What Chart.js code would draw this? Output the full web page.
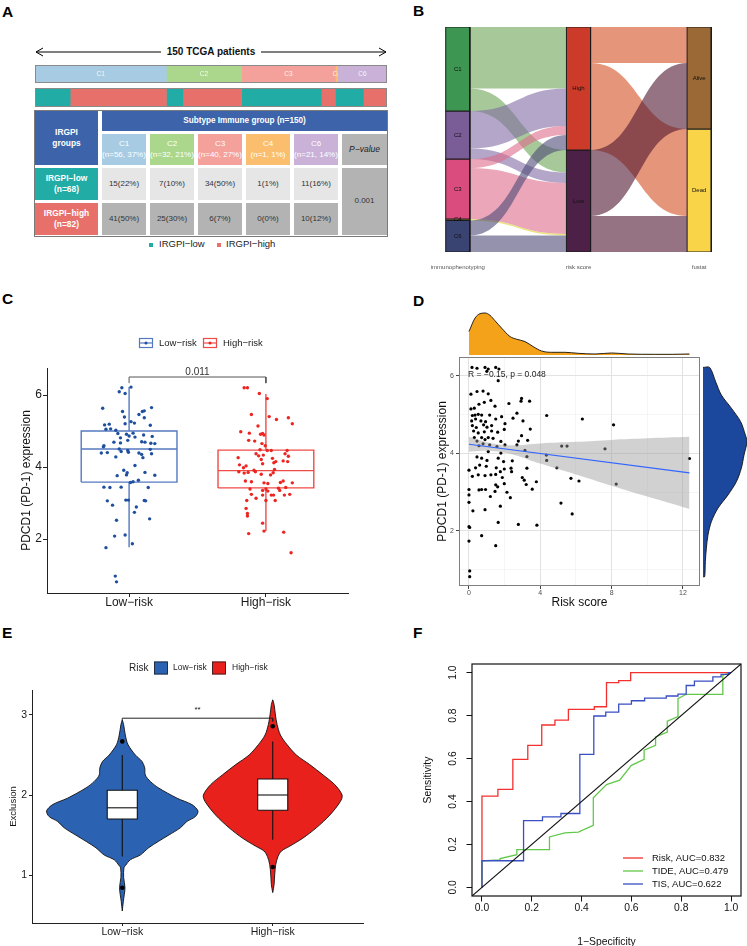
<!DOCTYPE html>
<html>
<head>
<meta charset="utf-8">
<title>IRGPI figure</title>
<script src="https://cdn.jsdelivr.net/npm/chart.js@4.4.1/dist/chart.umd.min.js"></script>
<style>
  html, body { margin:0; padding:0; background:#ffffff; }
  #page { position:relative; width:747px; height:946px; overflow:hidden; background:#fff;
          font-family:'Liberation Sans', Arial, Helvetica, sans-serif; color:#111; }
  #page canvas { position:absolute; }
  .plab { position:absolute; font-weight:bold; font-size:15.5px; line-height:1; color:#000; }
  .cell { position:absolute; box-sizing:border-box; display:flex; flex-direction:column;
          align-items:center; justify-content:center; text-align:center; line-height:1.3; white-space:nowrap; }
</style>
</head>
<body>
<div id="page">
  <div class="plab" style="left:2px;top:4px">A</div>
  <div class="plab" style="left:413px;top:3px">B</div>
  <div class="plab" style="left:2px;top:291px">C</div>
  <div class="plab" style="left:413px;top:293px">D</div>
  <div class="plab" style="left:2px;top:625px">E</div>
  <div class="plab" style="left:413px;top:625px">F</div>
  <svg style="position:absolute;left:0;top:40px" width="400" height="24">
    <line x1="36" y1="12" x2="386" y2="12" stroke="#000" stroke-width="1"/>
    <polyline points="43,8 36,12 43,16" fill="none" stroke="#000" stroke-width="1"/>
    <polyline points="379,8 386,12 379,16" fill="none" stroke="#000" stroke-width="1"/>
  </svg>
  <div id="arrowText" style="position:absolute;left:161px;top:46px;width:100px;height:12px;background:#fff;font-weight:bold;font-size:10px;line-height:12px;text-align:center;"></div>
</div>
<script>
// ======================= DATA =======================
// Panel A / B : subtypes and IRGPI groups
const subtypes       = ['C1', 'C2', 'C3', 'C4', 'C6'];
const subtypeCounts  = [56, 32, 40, 1, 21];
const subtypePct     = [37, 21, 27, 1, 14];
const lowCounts      = [15, 7, 34, 1, 11];
const lowPct         = [22, 10, 50, 1, 16];
const highCounts     = [41, 25, 6, 0, 10];
const highPct        = [50, 30, 7, 0, 12];
const riskGroups     = ['IRGPI−low', 'IRGPI−high'];
const riskTotals     = [68, 82];
const tablePValue    = '0.001';
const totalPatients  = 150;
const cohortLabel    = '150 TCGA patients';

// Panel B : alluvial
const sankeyAxes     = ['immunophenotyping', 'risk score', 'fustat'];
const riskLevels     = ['High', 'Low'];
const statusLevels   = ['Alive', 'Dead'];
const highToStatus   = [24, 58];
const lowToStatus    = [44, 24];

// Panel C : PDCD1 expression by risk group (jitter offsets + values)
const cCats = ['Low−risk', 'High−risk'];
const cLowJitter = [-0.053,-0.072,-0.029,0.014,-0.193,-0.048,0.097,0.111,0.164,0.072,-0.034,0.111,-0.179,-0.145,-0.029,0.014,0.039,0.155,-0.169,-0.135,-0.097,-0.082,-0.019,0.000,0.029,-0.063,0.043,0.106,0.169,-0.111,-0.063,-0.010,0.092,0.116,0.159,0.188,-0.184,-0.188,-0.072,-0.010,0.155,-0.203,-0.159,-0.058,-0.005,0.072,0.092,0.101,0.164,-0.097,0.043,-0.039,-0.014,-0.087,-0.019,0.116,0.188,0.010,0.029,0.068,-0.184,-0.140,-0.058,0.140,-0.159,-0.024,-0.005,0.111,0.121,-0.121,0.053,0.039,0.150,-0.092,-0.106,-0.029,-0.169,0.024,-0.101,-0.092];
const cLowExpr   = [6.20,6.09,6.04,6.22,5.63,5.54,5.54,5.56,5.65,5.46,5.39,5.37,5.17,5.19,5.20,5.26,5.22,5.16,5.05,5.06,5.02,4.93,4.91,4.86,4.94,4.81,4.83,4.89,4.85,4.69,4.67,4.74,4.70,4.69,4.66,4.65,4.59,4.56,4.50,4.46,4.49,4.39,4.40,4.43,4.41,4.39,4.35,4.26,4.37,4.28,4.04,3.91,3.84,3.76,3.78,3.85,3.77,3.57,3.59,3.63,3.44,3.43,3.44,3.43,3.06,3.08,3.08,3.07,3.06,2.94,2.89,2.74,2.56,2.52,2.08,2.11,1.76,1.87,0.97,0.81];
const cHighJitter = [-0.159,-0.135,-0.048,0.010,-0.106,0.024,0.077,0.164,0.193,-0.058,-0.184,-0.121,-0.039,-0.024,-0.014,-0.126,-0.082,-0.029,-0.005,-0.043,0.010,0.039,0.155,-0.072,-0.019,-0.053,0.140,-0.203,-0.034,0.048,0.072,0.126,0.164,0.159,0.058,-0.193,-0.164,-0.145,-0.024,-0.198,-0.159,-0.130,-0.087,-0.077,0.063,0.053,-0.034,0.034,-0.150,-0.106,-0.014,0.014,0.106,0.126,0.193,-0.116,-0.024,0.000,0.014,0.092,0.101,0.145,-0.106,-0.072,-0.024,0.039,0.056,0.135,0.174,-0.140,0.000,0.068,-0.145,-0.135,-0.135,-0.024,-0.014,-0.126,0.130,0.184];
const cHighExpr   = [6.20,6.20,6.04,5.90,5.46,5.40,5.32,5.37,5.20,5.14,4.98,4.94,4.91,4.93,4.89,4.74,4.72,4.65,4.59,4.48,4.46,4.46,4.46,4.37,4.33,4.31,4.37,4.26,4.21,4.24,4.15,4.17,4.30,4.15,4.12,4.06,3.98,4.03,4.09,3.87,3.83,3.85,3.91,3.87,3.93,3.84,3.80,3.78,3.61,3.59,3.56,3.54,3.57,3.61,3.56,3.39,3.35,3.39,3.33,3.41,3.35,3.43,3.24,3.13,3.22,3.22,3.22,3.22,3.24,3.07,3.07,3.07,2.85,2.71,2.64,2.44,2.22,2.15,2.19,1.62];
const cBoxQ1 = [3.58, 3.42], cBoxMed = [4.50, 3.90], cBoxQ3 = [5.00, 4.47];
const cWhiskLo = [1.77, 2.22], cWhiskHi = [6.22, 6.03];
const cBracketLow = 6.33, cBracketTop = 6.50, cPLabel = '0.011';

// Panel D : risk score vs PDCD1
const dRisk = [0.17,0.45,1.50,1.68,1.64,0.11,0.45,0.79,1.08,0.11,0.30,0.56,0.86,1.23,1.46,2.24,2.95,2.92,3.40,0.19,0.34,0.52,0.71,1.16,1.83,0.15,0.37,0.67,0.93,1.50,2.69,2.47,3.03,4.36,6.36,8.11,0.19,0.41,0.82,1.01,1.27,2.02,0.26,0.52,0.86,1.27,1.61,1.98,3.44,2.95,0.30,0.45,0.71,0.90,1.08,1.35,1.79,2.77,3.29,0.56,0.79,1.16,1.57,2.02,2.69,5.20,5.50,7.63,1.79,3.14,1.08,3.25,4.34,4.36,12.37,0.45,0.71,1.01,1.64,1.94,2.43,0.37,0.60,0.97,1.53,1.98,2.36,3.25,4.93,0.00,0.19,0.52,0.90,1.23,1.50,1.76,1.87,2.39,2.99,3.10,3.78,5.72,6.17,8.26,1.50,1.98,3.21,0.56,0.71,0.93,1.61,0.00,1.46,2.13,3.55,0.00,1.20,2.32,0.00,5.16,1.76,0.22,0.90,5.79,1.64,2.77,3.81,0.00,0.04,0.71,0.00,1.50,0.04,0.04,0.90,1.00,1.08];
const dExpr = [6.22,6.20,6.22,6.18,5.88,5.53,5.60,5.61,5.54,5.15,5.17,5.27,5.32,5.37,5.22,5.29,5.42,5.35,5.35,4.98,4.99,5.01,4.99,4.99,4.95,4.84,4.89,4.84,4.82,4.89,5.04,4.91,4.84,4.98,4.89,4.74,4.72,4.67,4.74,4.68,4.72,4.77,4.58,4.53,4.56,4.58,4.55,4.62,4.63,4.46,4.41,4.32,4.41,4.36,4.41,4.39,4.31,4.32,4.34,4.20,4.25,4.22,4.18,4.22,4.22,4.19,4.19,4.12,4.01,4.08,4.05,3.92,3.96,3.82,3.87,3.91,3.88,3.82,3.88,3.79,3.81,3.63,3.70,3.67,3.63,3.60,3.62,3.62,3.63,3.57,3.41,3.45,3.43,3.45,3.46,3.53,3.38,3.53,3.38,3.31,3.27,3.36,3.29,3.21,3.19,3.22,3.20,3.06,3.07,3.07,3.14,3.07,3.02,3.00,3.08,2.93,2.89,2.86,2.74,2.72,2.64,2.52,2.55,2.44,2.22,2.17,2.15,2.11,2.09,1.88,1.74,1.62,0.97,0.82,6.22,6.12,6.18];
const dFitX = [0, 12.37], dFitY = [4.24, 3.50];
const dBandX  = [0, 1, 1.6, 2.5, 4, 6, 8, 10, 12.37];
const dBandLo = [4.05, 4.07, 4.05, 3.97, 3.74, 3.46, 3.17, 2.89, 2.57];
const dBandHi = [4.43, 4.29, 4.24, 4.21, 4.26, 4.30, 4.35, 4.39, 4.43];
const dTopX    = [0,0.34,0.62,0.9,1.18,1.46,1.83,2.3,2.67,3.14,3.6,4.07,4.64,5.38,6.13,7.07,8.0,8.93,10.4,11.4,12.37];
const dTopDens = [0.070,0.110,0.123,0.125,0.118,0.102,0.080,0.055,0.047,0.040,0.025,0.012,0.008,0.008,0.005,0.003,0.006,0.003,0.002,0.002,0.003];
const dRightY    = [6.22,5.85,5.51,5.17,4.82,4.48,4.31,3.96,3.62,3.27,2.93,2.59,2.24,1.90,1.55,1.21,0.82];
const dRightDens = [0.020,0.038,0.055,0.085,0.113,0.127,0.132,0.123,0.115,0.100,0.075,0.045,0.025,0.015,0.010,0.007,0.005];
const dAnnotation = 'R = −0.15, p = 0.048';
const dAnnotX = -0.05, dAnnotY = 6.03;

// Panel E : Exclusion violins
const eCats = ['Low−risk', 'High−risk'];
const eLowViolinY  = [0.55,0.67,0.84,0.97,1.09,1.12,1.19,1.25,1.34,1.42,1.50,1.59,1.67,1.73,1.80,1.88,1.96,2.09,2.17,2.25,2.34,2.42,2.50,2.63,2.75,2.88,2.94];
const eLowViolinW  = [0,0.007,0.018,0.009,0.011,0.022,0.053,0.12,0.175,0.24,0.31,0.386,0.43,0.486,0.503,0.463,0.364,0.24,0.186,0.153,0.149,0.131,0.087,0.038,0.02,0.009,0];
const eHighViolinY = [0.78,0.88,1.0,1.13,1.23,1.30,1.36,1.46,1.59,1.75,1.92,2.0,2.13,2.25,2.38,2.5,2.63,2.75,2.88,3.0,3.13,3.19];
const eHighViolinW = [0,0.009,0.013,0.02,0.035,0.058,0.113,0.2,0.29,0.38,0.45,0.461,0.412,0.335,0.246,0.157,0.095,0.051,0.029,0.018,0.009,0];
const eBoxQ1 = [1.70, 1.81], eBoxMed = [1.84, 2.00], eBoxQ3 = [2.06, 2.20];
const eWhiskLo = [1.23, 1.44], eWhiskHi = [2.50, 2.67];
const eOutliers = [[2.67, 0.84], [2.86, 1.10]];
const eBracketY = 2.96, eSigLabel = '**';

// Panel F : ROC curves
const fRiskFPR = [0,0,0.064,0.064,0.124,0.124,0.184,0.184,0.24,0.24,0.293,0.293,0.347,0.347,0.451,0.451,0.5,0.5,0.549,0.549,0.597,0.597,1];
const fRiskTPR = [0,0.425,0.425,0.456,0.456,0.596,0.596,0.661,0.661,0.756,0.756,0.779,0.779,0.829,0.829,0.841,0.841,0.953,0.953,0.963,0.963,1,1];
const fTideFPR = [0,0,0.073,0.073,0.14,0.14,0.271,0.271,0.333,0.387,0.447,0.447,0.5,0.553,0.6,0.651,0.651,0.697,0.697,0.744,0.744,0.787,0.787,0.82,0.967,0.967,1];
const fTideTPR = [0,0.124,0.128,0.134,0.152,0.176,0.176,0.235,0.254,0.257,0.289,0.417,0.479,0.499,0.568,0.596,0.639,0.661,0.701,0.723,0.774,0.795,0.879,0.899,0.899,0.988,1];
const fTisFPR  = [0,0,0.167,0.167,0.243,0.243,0.317,0.317,0.393,0.393,0.449,0.449,0.497,0.497,0.549,0.549,0.6,0.6,0.653,0.653,0.74,0.74,0.787,0.787,0.82,0.82,0.853,0.853,0.927,0.927,0.96,0.96,0.99,0.99,1];
const fTisTPR  = [0,0.124,0.124,0.311,0.311,0.328,0.328,0.344,0.344,0.619,0.619,0.798,0.798,0.816,0.816,0.853,0.853,0.869,0.869,0.881,0.881,0.891,0.891,0.9,0.9,0.94,0.94,0.96,0.96,0.98,0.98,0.992,0.992,1,1];
const fLegend  = ['Risk, AUC=0.832', 'TIDE, AUC=0.479', 'TIS, AUC=0.622'];
const fTicks   = [0, 0.2, 0.4, 0.6, 0.8, 1.0];

// ======================= HELPERS =======================
const FONT = "'Liberation Sans', Arial, Helvetica, sans-serif";
Chart.defaults.font.family = FONT;
Chart.defaults.color = '#111';
const page = document.getElementById('page');
document.getElementById('arrowText').textContent = cohortLabel;

function mk(left, top, w, h) {
  const c = document.createElement('canvas');
  c.width = w; c.height = h;
  c.style.left = left + 'px'; c.style.top = top + 'px';
  c.style.width = w + 'px'; c.style.height = h + 'px';
  page.appendChild(c);
  return c;
}
function baseOptions(extra) {
  const o = { responsive:false, maintainAspectRatio:false, animation:false, devicePixelRatio:1, events:[],
    plugins:{ legend:{display:false}, tooltip:{enabled:false} },
    layout:{ padding:0, autoPadding:false } };
  return Object.assign(o, extra);
}
function fixedTicks(vals) { return s => { s.ticks = vals.map(v => ({ value:v })); }; }
function fitH(h) { return s => { s.height = h; s.paddingLeft = 0; s.paddingRight = 0; }; }
function fitW(w) { return s => { s.width = w; s.paddingTop = 0; s.paddingBottom = 0; }; }
function pts(xs, ys) { return xs.map((x, i) => ({ x:x, y:ys[i] })); }
function lineDS(points, color, width, extra) {
  return Object.assign({ data:points, showLine:true, borderColor:color, borderWidth:width, pointRadius:0, fill:false, tension:0 }, extra || {});
}
function polyDS(points, fillColor, strokeColor, width, extra) {
  return Object.assign({ data:points, showLine:true, borderColor:strokeColor, borderWidth:width, backgroundColor:fillColor,
    pointRadius:0, fill:'shape', tension:0 }, extra || {});
}
function dotDS(points, color, r) {
  return { data:points, showLine:false, pointRadius:r, pointBackgroundColor:color, pointBorderWidth:0, borderWidth:0, backgroundColor:color };
}
function rectPts(cx, hw, y0, y1) {
  return [{x:cx-hw,y:y0},{x:cx+hw,y:y0},{x:cx+hw,y:y1},{x:cx-hw,y:y1},{x:cx-hw,y:y0}];
}
function violinPts(cx, ys, ws) {
  const right = ys.map((y, i) => ({ x:cx + ws[i], y:y }));
  const left = ys.map((y, i) => ({ x:cx - ws[i], y:y })).reverse();
  return right.concat(left);
}
function sum(a) { return a.reduce((s, v) => s + v, 0); }

// ======================= PANEL A =======================
const subtypeColors = ['#a6cbe3', '#aad78b', '#f4a09b', '#fbbe6e', '#c9b1d7'];
const TEAL = '#22aca6', SALMON = '#e8706a', TBLUE = '#3d64aa';

const stripFrame = { id:'stripFrame', afterDraw(c) {
  const { ctx, chartArea:a } = c; ctx.save(); ctx.strokeStyle = '#8a8a8a'; ctx.lineWidth = 1;
  ctx.strokeRect(a.left + 0.5, a.top + 0.5, a.right - a.left - 1, a.bottom - a.top - 1); ctx.restore(); } };
function stripLabels(labels) { return { id:'stripLabels', afterDatasetsDraw(c) {
  const ctx = c.ctx;
  labels.forEach((t, i) => {
    const el = c.getDatasetMeta(i).data[0];
    const x0 = Math.min(el.base, el.x), x1 = Math.max(el.base, el.x);
    ctx.save(); ctx.beginPath(); ctx.rect(0, 0, x1, c.height); ctx.clip();
    ctx.fillStyle = 'rgba(255,255,255,0.88)'; ctx.font = '6.5px ' + FONT;
    ctx.textAlign = 'center'; ctx.textBaseline = 'middle';
    ctx.fillText(t, (x0 + x1) / 2, el.y + 0.5); ctx.restore();
  }); } }; }
function stripChart(canvas, segs, labels) {
  return new Chart(canvas, {
    type:'bar',
    data:{ labels:[''], datasets: segs.map(s => ({ data:[s.v], backgroundColor:s.c, borderWidth:0, barPercentage:1, categoryPercentage:1 })) },
    options: baseOptions({ indexAxis:'y',
      scales:{ x:{ stacked:true, display:false, min:0, max:totalPatients }, y:{ stacked:true, display:false } } }),
    plugins: labels ? [stripLabels(labels), stripFrame] : [stripFrame]
  });
}
stripChart(mk(35, 65, 352, 18), subtypes.map((s, i) => ({ v:subtypeCounts[i], c:subtypeColors[i] })), subtypes);
const riskSegs = [];
subtypes.forEach((s, i) => {
  if (lowCounts[i] > 0) riskSegs.push({ v:lowCounts[i], c:TEAL });
  if (highCounts[i] > 0) riskSegs.push({ v:highCounts[i], c:SALMON });
});
stripChart(mk(35, 88, 352, 19), riskSegs, null);

// table
function cell(left, top, w, h, bg, html, style) {
  const d = document.createElement('div'); d.className = 'cell';
  Object.assign(d.style, { left:left + 'px', top:top + 'px', width:w + 'px', height:h + 'px', background:bg });
  if (style) Object.assign(d.style, style);
  d.innerHTML = html; page.appendChild(d); return d;
}
cell(34, 110, 354, 127, '#fff', '', { border:'1px solid #7a7a7a' });
const whiteBold = { color:'#fff', fontWeight:'bold', fontSize:'8.4px' };
cell(35, 111, 63, 54, TBLUE, 'IRGPI<br>groups', whiteBold);
cell(102, 111, 285, 20, TBLUE, 'Subtype Immune group (n=' + totalPatients + ')', { color:'#fff', fontWeight:'bold', fontSize:'8.2px' });
const colX = [102, 150, 198, 246, 294];
subtypes.forEach((s, i) => {
  cell(colX[i], 134, 44, 31, subtypeColors[i], s + '<br>(n=' + subtypeCounts[i] + ', ' + subtypePct[i] + '%)', { color:'#fff', fontSize:'8px' });
  cell(colX[i], 168, 44, 32, '#e6e6e6', lowCounts[i] + '(' + lowPct[i] + '%)', { color:'#333', fontSize:'8px' });
  cell(colX[i], 203, 44, 32, '#b3b3b3', highCounts[i] + '(' + highPct[i] + '%)', { color:'#333', fontSize:'8px' });
});
cell(342, 134, 45, 31, '#b4b4b4', 'P−value', { color:'#222', fontStyle:'italic', fontSize:'8.5px' });
cell(35, 168, 63, 32, TEAL, riskGroups[0] + '<br>(n=' + riskTotals[0] + ')', whiteBold);
cell(35, 203, 63, 32, SALMON, riskGroups[1] + '<br>(n=' + riskTotals[1] + ')', whiteBold);
cell(342, 168, 45, 67, '#b3b3b3', tablePValue, { color:'#333', fontSize:'8px' });
// legend A
cell(149, 242.5, 4, 4, TEAL, '');
cell(159, 238, 60, 13, 'transparent', riskGroups[0], { color:'#222', fontSize:'9.5px', alignItems:'flex-start' });
cell(216.5, 242.5, 4, 4, SALMON, '');
cell(226, 238, 60, 13, 'transparent', riskGroups[1], { color:'#222', fontSize:'9.5px', alignItems:'flex-start' });

// ======================= PANEL B =======================
const NODE_HW = 0.1;
const bNodeColors = [
  ['#3d9651', '#7a5c97', '#d94c7d', '#e3d85a', '#3a4473'],
  ['#cc3a29', '#4d2147'],
  ['#9a6935', '#f9d448']
];
const bFlowColors = [
  ['rgba(108,165,87,0.6)', 'rgba(128,107,163,0.6)', 'rgba(222,107,138,0.6)', 'rgba(225,215,80,0.7)', 'rgba(77,73,118,0.6)'],
  ['rgba(212,80,33,0.6)', 'rgba(78,22,48,0.6)']
];
const bColumns = [
  { names:subtypes, counts:subtypeCounts },
  { names:riskLevels, counts:[sum(highCounts), sum(lowCounts)] },
  { names:statusLevels, counts:[highToStatus[0] + lowToStatus[0], highToStatus[1] + lowToStatus[1]] }
];
bColumns.forEach(col => { let s = 0; col.starts = col.counts.map(v => { const r = s; s += v; return r; }); });
const m01 = subtypes.map((s, i) => [highCounts[i], lowCounts[i]]);
const m12 = [highToStatus, lowToStatus];
function buildFlows(ci, matrix) {
  const A = bColumns[ci], B = bColumns[ci + 1];
  const src = A.starts.slice(), tgt = B.starts.slice(), out = [];
  matrix.forEach((row, i) => row.forEach((v, j) => {
    if (v <= 0) return;
    out.push({ c0:ci, c1:ci + 1, s0:src[i], e0:src[i] + v, s1:tgt[j], e1:tgt[j] + v, color:bFlowColors[ci][i] });
    src[i] += v; tgt[j] += v;
  }));
  return out;
}
const bFlows = buildFlows(0, m01).concat(buildFlows(1, m12));
const bDatasets = [];
bColumns.forEach((col, ci) => col.names.forEach((n, k) => {
  bDatasets.push(polyDS(rectPts(ci, NODE_HW, col.starts[k], col.starts[k] + col.counts[k]), bNodeColors[ci][k], '#1a1a1a', 1));
}));
const sankeyPlugin = { id:'sankey',
  beforeDatasetsDraw(c) {
    const { ctx, scales:{ x, y } } = c; ctx.save();
    bFlows.forEach(f => {
      const x0 = x.getPixelForValue(f.c0 + NODE_HW), x1 = x.getPixelForValue(f.c1 - NODE_HW), xm = (x0 + x1) / 2;
      const a0 = y.getPixelForValue(f.s0), b0 = y.getPixelForValue(f.e0), a1 = y.getPixelForValue(f.s1), b1 = y.getPixelForValue(f.e1);
      ctx.beginPath(); ctx.moveTo(x0, a0); ctx.bezierCurveTo(xm, a0, xm, a1, x1, a1);
      ctx.lineTo(x1, b1); ctx.bezierCurveTo(xm, b1, xm, b0, x0, b0); ctx.closePath();
      ctx.fillStyle = f.color; ctx.fill();
    });
    ctx.restore();
  },
  afterDatasetsDraw(c) {
    const { ctx, scales:{ x, y } } = c; ctx.save();
    ctx.fillStyle = '#111'; ctx.font = '6px ' + FONT; ctx.textAlign = 'center'; ctx.textBaseline = 'middle';
    bColumns.forEach((col, ci) => col.names.forEach((n, k) => {
      ctx.fillText(n, x.getPixelForValue(ci), y.getPixelForValue(col.starts[k] + col.counts[k] / 2));
    }));
    ctx.restore();
  } };
new Chart(mk(430, 20, 300, 260), {
  type:'scatter',
  data:{ datasets:bDatasets },
  options: baseOptions({ layout:{ padding:{ left:10, right:10, top:7, bottom:0 }, autoPadding:false },
    scales:{
      x:{ type:'linear', min:-0.1475, max:2.1723, afterBuildTicks:fixedTicks([0, 1, 2]), afterFit:fitH(28),
          grid:{ display:false, drawTicks:false }, border:{ display:false },
          ticks:{ callback:v => sankeyAxes[Math.round(v)], font:{ size:6 }, color:'#555', padding:12, maxRotation:0, autoSkip:false } },
      y:{ type:'linear', min:0, max:totalPatients, reverse:true, display:false }
    } }),
  plugins:[sankeyPlugin]
});

// ======================= PANEL C =======================
const C_BLUE = '#1f4f9e', C_BLUE_BOX = '#5479bf', C_RED = '#ec2522', C_RED_BOX = '#ef4b46';
const BOX_HW_C = 0.35;
const cDatasets = [
  dotDS(cLowExpr.map((v, i) => ({ x:1 + cLowJitter[i], y:v })), C_BLUE, 1.7),
  dotDS(cHighExpr.map((v, i) => ({ x:2 + cHighJitter[i], y:v })), C_RED, 1.7),
  lineDS([{x:1,y:cBracketLow},{x:1,y:cBracketTop},{x:2,y:cBracketTop},{x:2,y:cBracketLow}], '#555', 1)
];
[[C_BLUE_BOX, 0], [C_RED_BOX, 1]].forEach(([col, g]) => {
  const cx = g + 1;
  cDatasets.push(lineDS(rectPts(cx, BOX_HW_C, cBoxQ1[g], cBoxQ3[g]), col, 1.4));
  cDatasets.push(lineDS([{x:cx-BOX_HW_C,y:cBoxMed[g]},{x:cx+BOX_HW_C,y:cBoxMed[g]}], col, 1.4));
  cDatasets.push(lineDS([{x:cx,y:cBoxQ3[g]},{x:cx,y:cWhiskHi[g]}], col, 1.4));
  cDatasets.push(lineDS([{x:cx,y:cBoxQ1[g]},{x:cx,y:cWhiskLo[g]}], col, 1.4));
});
const cExtra = { id:'cExtra', afterDraw(c) {
  const { ctx, scales:{ x, y } } = c; ctx.save();
  ctx.font = '10px ' + FONT; ctx.fillStyle = '#333'; ctx.textAlign = 'center'; ctx.textBaseline = 'alphabetic';
  ctx.fillText(cPLabel, x.getPixelForValue(1.5), y.getPixelForValue(cBracketTop) - 2);
  const items = [{ t:cCats[0], c:C_BLUE_BOX, p:C_BLUE, x:139 }, { t:cCats[1], c:C_RED_BOX, p:C_RED, x:203 }];
  items.forEach(it => {
    const yc = 13;
    ctx.strokeStyle = it.c; ctx.lineWidth = 1.2;
    ctx.strokeRect(it.x + 0.5, yc - 4.5, 13, 9);
    ctx.beginPath(); ctx.moveTo(it.x, yc); ctx.lineTo(it.x + 13.5, yc); ctx.stroke();
    ctx.fillStyle = it.p; ctx.beginPath(); ctx.arc(it.x + 7, yc, 1.5, 0, Math.PI * 2); ctx.fill();
    ctx.fillStyle = '#222'; ctx.font = '9.5px ' + FONT; ctx.textAlign = 'left'; ctx.textBaseline = 'middle';
    ctx.fillText(it.t, it.x + 20, yc);
  });
  ctx.restore(); } };
function classicGrid(len) { return { display:true, drawOnChartArea:false, drawTicks:true, tickLength:len, color:'#222', tickColor:'#222' }; }
new Chart(mk(0, 330, 360, 290), {
  type:'scatter',
  data:{ datasets:cDatasets },
  options: baseOptions({ layout:{ padding:{ left:0, right:12, top:38, bottom:0 }, autoPadding:false },
    scales:{
      x:{ type:'linear', min:0.4, max:2.6, afterBuildTicks:fixedTicks([1, 2]), afterFit:fitH(27),
          grid:classicGrid(4), border:{ display:true, color:'#222', width:1 },
          ticks:{ callback:v => cCats[Math.round(v) - 1], font:{ size:12 }, color:'#1a1a1a', padding:-2, maxRotation:0, autoSkip:false } },
      y:{ type:'linear', min:0.5, max:6.75, afterBuildTicks:fixedTicks([2, 4, 6]), afterFit:fitW(47),
          grid:classicGrid(4), border:{ display:true, color:'#222', width:1 },
          ticks:{ font:{ size:12 }, color:'#1a1a1a', padding:1 },
          title:{ display:true, text:'PDCD1 (PD-1) expression', font:{ size:12 }, color:'#111', padding:{ top:19.8, bottom:0 } } }
    } }),
  plugins:[cExtra]
});

// ======================= PANEL D =======================
const dMajorX = v => Math.abs(v % 4) < 1e-9, dMajorY = v => Math.abs(v % 2) < 1e-9;
const dExtra = { id:'dExtra', afterDraw(c) {
  const { ctx, chartArea:a, scales:{ x, y } } = c; ctx.save();
  ctx.strokeStyle = '#808080'; ctx.lineWidth = 1;
  ctx.strokeRect(a.left + 0.5, a.top + 0.5, a.right - a.left - 1, a.bottom - a.top - 1);
  ctx.fillStyle = '#222'; ctx.font = '8.5px ' + FONT; ctx.textAlign = 'left'; ctx.textBaseline = 'middle';
  ctx.fillText(dAnnotation, x.getPixelForValue(dAnnotX), y.getPixelForValue(dAnnotY));
  ctx.restore(); } };
function dGrid(isMajor) { return {
  display:true, drawOnChartArea:true, drawTicks:true, tickLength:3,
  color:ctx => (ctx.tick && isMajor(ctx.tick.value)) ? '#e2e2e2' : '#efefef',
  lineWidth:ctx => (ctx.tick && isMajor(ctx.tick.value)) ? 1 : 0.6,
  tickColor:ctx => (ctx.tick && isMajor(ctx.tick.value)) ? '#444' : 'rgba(0,0,0,0)' }; }
new Chart(mk(410, 352, 295, 262), {
  type:'scatter',
  data:{ datasets:[
    lineDS(pts(dFitX, dFitY), '#3366ff', 1.1),
    lineDS(pts(dBandX, dBandHi), 'rgba(0,0,0,0)', 0, { fill:'+1', backgroundColor:'rgba(153,153,153,0.45)', tension:0.4 }),
    lineDS(pts(dBandX, dBandLo), 'rgba(0,0,0,0)', 0, { tension:0.4 }),
    dotDS(pts(dRisk, dExpr), '#000', 1.6)
  ] },
  options: baseOptions({ layout:{ padding:{ left:0, right:5, top:5, bottom:0 }, autoPadding:false },
    scales:{
      x:{ type:'linear', min:-0.56, max:12.96, afterBuildTicks:fixedTicks([0, 2, 4, 6, 8, 10, 12]), afterFit:fitH(28),
          grid:dGrid(dMajorX), border:{ display:false },
          ticks:{ callback:v => dMajorX(v) ? String(v) : '', font:{ size:7 }, color:'#4d4d4d', padding:0, maxRotation:0, autoSkip:false },
          title:{ display:true, text:'Risk score', font:{ size:12 }, color:'#111', padding:{ top:0, bottom:3.8 } } },
      y:{ type:'linear', min:0.58, max:6.49, afterBuildTicks:fixedTicks([1, 2, 3, 4, 5, 6]), afterFit:fitW(49),
          grid:dGrid(dMajorY), border:{ display:false },
          ticks:{ callback:v => dMajorY(v) ? String(v) : '', font:{ size:7 }, color:'#4d4d4d', padding:2, autoSkip:false },
          title:{ display:true, text:'PDCD1 (PD-1) expression', font:{ size:12 }, color:'#111', padding:{ top:25.8, bottom:0 } } }
    } }),
  plugins:[dExtra]
});
// top marginal density
new Chart(mk(459, 300, 241, 57), {
  type:'scatter',
  data:{ datasets:[ lineDS(pts(dTopX, dTopDens), '#111', 0.9, { fill:'origin', backgroundColor:'#f5a21b', tension:0.4, cubicInterpolationMode:'monotone' }) ] },
  options: baseOptions({ layout:{ padding:{ left:0, right:0, top:0, bottom:2 }, autoPadding:false },
    scales:{ x:{ type:'linear', min:-0.56, max:12.96, display:false }, y:{ type:'linear', min:0, max:0.1637, display:false } } })
});
// right marginal density
const dRightPts = [{ x:0, y:dRightY[0] }].concat(pts(dRightDens, dRightY)).concat([{ x:0, y:dRightY[dRightY.length - 1] }]);
new Chart(mk(703, 357, 44, 229), {
  type:'scatter',
  data:{ datasets:[ polyDS(dRightPts, '#1b479d', '#111', 0.9, { tension:0.3 }) ] },
  options: baseOptions({ layout:{ padding:0, autoPadding:false },
    scales:{ x:{ type:'linear', min:0, max:0.132, display:false }, y:{ type:'linear', min:0.58, max:6.49, display:false } } })
});

// ======================= PANEL E =======================
const E_BLUE = '#2b63b2', E_RED = '#e8211c';
const BOX_HW_E = 0.1;
const eDatasets = [
  lineDS([{x:1,y:eBracketY-0.02},{x:1,y:eBracketY},{x:2,y:eBracketY},{x:2,y:eBracketY-0.04}], '#222', 1),
  dotDS(eOutliers.flatMap((arr, g) => arr.map(v => ({ x:g + 1, y:v }))), '#000', 2.3)
];
[0, 1].forEach(g => {
  const cx = g + 1;
  eDatasets.push(lineDS([{x:cx-BOX_HW_E,y:eBoxMed[g]},{x:cx+BOX_HW_E,y:eBoxMed[g]}], '#111', 1.1));
});
[0, 1].forEach(g => eDatasets.push(polyDS(rectPts(g + 1, BOX_HW_E, eBoxQ1[g], eBoxQ3[g]), '#ffffff', '#111', 1.1)));
[0, 1].forEach(g => eDatasets.push(lineDS([{x:g+1,y:eWhiskLo[g]},{x:g+1,y:eWhiskHi[g]}], '#111', 1.1)));
eDatasets.push(polyDS(violinPts(1, eLowViolinY, eLowViolinW), E_BLUE, '#111', 0.9, { tension:0.3 }));
eDatasets.push(polyDS(violinPts(2, eHighViolinY, eHighViolinW), E_RED, '#111', 0.9, { tension:0.3 }));
const eExtra = { id:'eExtra', afterDraw(c) {
  const { ctx, scales:{ x, y } } = c; ctx.save();
  ctx.fillStyle = '#111'; ctx.font = '8px ' + FONT; ctx.textAlign = 'center'; ctx.textBaseline = 'middle';
  ctx.fillText(eSigLabel, x.getPixelForValue(1.5), y.getPixelForValue(eBracketY) - 8);
  const yc = 23;
  ctx.textAlign = 'left'; ctx.fillStyle = '#222'; ctx.font = '10px ' + FONT;
  ctx.fillText('Risk', 129, yc);
  [[154, E_BLUE, eCats[0], 173], [212, E_RED, eCats[1], 232]].forEach(([bx, col, t, tx]) => {
    ctx.fillStyle = col; ctx.fillRect(bx, yc - 6.5, 14, 13);
    ctx.strokeStyle = '#222'; ctx.lineWidth = 0.8; ctx.strokeRect(bx + 0.5, yc - 6, 13, 12);
    ctx.fillStyle = '#222'; ctx.font = '8.5px ' + FONT; ctx.fillText(t, tx, yc);
  });
  ctx.restore(); } };
new Chart(mk(0, 645, 375, 301), {
  type:'scatter',
  data:{ datasets:eDatasets },
  options: baseOptions({ layout:{ padding:{ left:0, right:12, top:45, bottom:0 }, autoPadding:false },
    scales:{
      x:{ type:'linear', min:0.4, max:2.6, afterBuildTicks:fixedTicks([1, 2]), afterFit:fitH(23),
          grid:classicGrid(3), border:{ display:true, color:'#222', width:1 },
          ticks:{ callback:v => eCats[Math.round(v) - 1], font:{ size:10.5 }, color:'#1a1a1a', padding:-0.5, maxRotation:0, autoSkip:false } },
      y:{ type:'linear', min:0.4, max:3.3125, afterBuildTicks:fixedTicks([1, 2, 3]), afterFit:fitW(32),
          grid:classicGrid(3), border:{ display:true, color:'#222', width:1 },
          ticks:{ font:{ size:10.5 }, color:'#1a1a1a', padding:2 },
          title:{ display:true, text:'Exclusion', font:{ size:9.5 }, color:'#111', padding:{ top:7.3, bottom:0 } } }
    } }),
  plugins:[eExtra]
});

// ======================= PANEL F =======================
const F_RED = '#f2312f', F_GREEN = '#62c84a', F_BLUE = '#3a4fc2';
const fExtra = { id:'fExtra', afterDraw(c) {
  const { ctx, chartArea:a, scales:{ x, y } } = c; ctx.save();
  ctx.strokeStyle = '#111'; ctx.lineWidth = 1.2;
  ctx.strokeRect(a.left, a.top, a.right - a.left, a.bottom - a.top);
  ctx.fillStyle = '#111'; ctx.font = '10.3px ' + FONT; ctx.textAlign = 'center'; ctx.textBaseline = 'middle';
  fTicks.forEach(v => {
    ctx.save(); ctx.translate(a.left - 18.5, y.getPixelForValue(v)); ctx.rotate(-Math.PI / 2);
    ctx.fillText(v.toFixed(1), 0, 0); ctx.restore();
  });
  const rows = [203, 216, 229], cols = [F_RED, F_GREEN, F_BLUE];
  ctx.font = '9.5px ' + FONT; ctx.textAlign = 'left';
  fLegend.forEach((t, i) => {
    ctx.strokeStyle = cols[i]; ctx.lineWidth = 1.3;
    ctx.beginPath(); ctx.moveTo(208, rows[i]); ctx.lineTo(228, rows[i]); ctx.stroke();
    ctx.fillStyle = '#111'; ctx.fillText(t, 237, rows[i]);
  });
  ctx.restore(); } };
const fGrid = { display:true, drawOnChartArea:false, drawTicks:true, tickLength:5.5, color:'#111', tickColor:'#111' };
new Chart(mk(415, 655, 332, 291), {
  type:'scatter',
  data:{ datasets:[
    lineDS([{x:-0.04,y:-0.04},{x:1.04,y:1.04}], '#111', 1.1),
    lineDS(pts(fTisFPR, fTisTPR), F_BLUE, 1.3),
    lineDS(pts(fTideFPR, fTideTPR), F_GREEN, 1.3),
    lineDS(pts(fRiskFPR, fRiskTPR), F_RED, 1.3)
  ] },
  options: baseOptions({ layout:{ padding:{ left:0, right:6, top:9, bottom:0 }, autoPadding:false },
    scales:{
      x:{ type:'linear', min:-0.04, max:1.04, afterBuildTicks:fixedTicks(fTicks), afterFit:fitH(50),
          grid:fGrid, border:{ display:false },
          ticks:{ callback:v => v.toFixed(1), font:{ size:10.3 }, color:'#111', padding:0, maxRotation:0, autoSkip:false },
          title:{ display:true, text:'1−Specificity', font:{ size:10.4 }, color:'#111', padding:{ top:0, bottom:-2 } } },
      y:{ type:'linear', min:-0.04, max:1.04, afterBuildTicks:fixedTicks(fTicks), afterFit:fitW(57),
          grid:fGrid, border:{ display:false },
          ticks:{ color:'rgba(0,0,0,0)', font:{ size:10.3 }, padding:2 },
          title:{ display:true, text:'Sensitivity', font:{ size:10.4 }, color:'#111', padding:{ top:6.8, bottom:0 } } }
    } }),
  plugins:[fExtra]
});
</script>
</body>
</html>
